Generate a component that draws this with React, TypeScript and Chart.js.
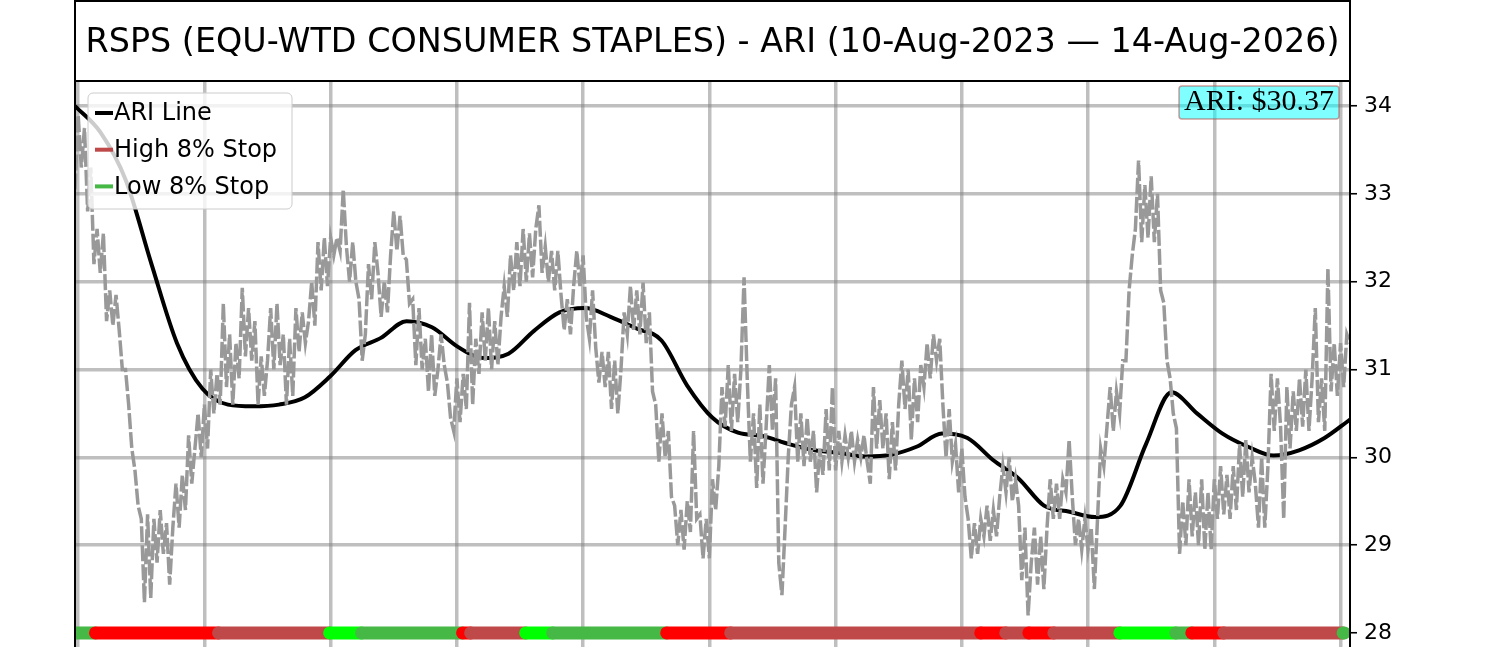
import React, { useEffect, useRef } from 'react';
import { Chart, registerables } from 'chart.js';

Chart.register(...registerables);

const TITLE = 'RSPS (EQU-WTD CONSUMER STAPLES) - ARI (10-Aug-2023 — 14-Aug-2026)';
const ARI_LABEL = 'ARI: $30.37';

// price (grey), one value every PRICE_STEP along the x axis
const PRICE_STEP = 0.25;
const priceValues = [
  33.05, 33.9, 33.3, 33.75, 32.8, 33.3, 32.2, 32.6,
  32.1, 32.55, 31.55, 31.9, 31.5, 31.85, 31.45, 31.0,
  31.0, 30.6, 30.1, 29.85, 29.45, 29.3, 28.35, 29.35,
  28.4, 29.3, 28.8, 29.4, 28.9, 29.25, 28.55, 29.2,
  29.7, 29.2, 29.8, 29.4, 30.25, 29.7, 30.1, 30.5,
  30.0, 30.6, 30.1, 31.0, 30.5, 30.95, 30.6, 31.75,
  30.8, 31.4, 30.6, 31.3, 30.9, 31.93, 31.15, 31.7,
  31.1, 31.55, 30.6, 31.15, 30.7, 31.1, 31.7, 31.0,
  31.75, 31.05, 31.4, 30.6, 31.35, 30.7, 31.7, 31.2,
  31.65, 31.3, 31.55, 32.0, 31.5, 32.45, 31.9, 32.5,
  31.95, 32.5, 32.3, 32.5, 32.35, 33.05, 32.4, 32.0,
  32.45, 32.0, 31.8, 31.1, 31.4, 32.2, 31.8, 32.45,
  32.1, 31.6, 32.0, 31.65, 32.3, 32.8, 32.35, 32.75,
  32.3, 32.25, 31.75, 31.8, 31.05, 31.7, 31.0, 31.35,
  30.75, 31.4, 30.7, 31.0, 31.4, 31.05, 30.85, 30.45,
  30.3, 30.9, 30.4, 30.95, 30.55, 31.76, 30.6, 31.35,
  30.95, 31.65, 31.1, 31.7, 31.0, 31.55, 31.05, 31.6,
  31.95, 31.6, 32.3, 31.9, 32.45, 31.95, 32.6, 32.0,
  32.55, 32.05, 32.6, 32.87, 32.1, 32.4, 32.0, 32.35,
  31.9, 32.35, 31.85, 31.45, 31.8, 31.4, 31.95, 32.35,
  31.95, 32.3, 31.6, 31.35, 31.9, 31.25, 30.85, 31.2,
  30.8, 31.2, 30.55, 31.1, 30.5, 31.0, 31.65, 31.4,
  31.95, 31.45, 31.9, 31.4, 31.99, 31.3, 31.65, 30.75,
  30.6, 29.95, 30.5, 30.0, 30.3, 29.55, 29.45, 29.0,
  29.4, 28.95, 29.5, 29.15, 30.3, 29.3, 29.35, 28.85,
  29.3, 28.85, 29.75, 29.4, 29.9, 30.8, 30.35, 31.05,
  30.3, 30.95, 30.4, 31.0, 32.05, 30.9, 29.95, 30.5,
  29.65, 30.6, 29.7, 30.35, 31.05, 30.3, 30.9, 28.8,
  28.43, 29.2, 30.0, 30.6, 30.8, 29.95, 30.5, 29.9,
  30.45, 29.95, 30.3, 29.6, 30.1, 29.8, 30.55, 29.85,
  30.8, 29.85, 30.3, 29.95, 30.25, 30.0, 30.3, 29.95,
  30.2, 30.0, 30.25, 29.95, 29.7, 30.8, 30.1, 30.65,
  30.1, 30.5, 29.75, 30.4, 29.85, 30.6, 31.1, 30.55,
  31.0, 30.2, 30.9, 30.4, 31.05, 30.8, 31.3, 30.9,
  31.4, 31.1, 31.35, 30.6, 30.0, 30.55, 29.95, 30.15,
  29.6, 30.1, 29.55, 29.3, 28.85, 29.25, 28.9, 29.3,
  29.1, 29.45, 29.05, 29.4, 29.1, 29.55, 29.9, 29.6,
  30.0, 29.5, 29.75, 29.45, 28.6, 29.2, 28.2, 28.8,
  29.2, 28.55, 29.1, 28.5, 29.2, 29.75, 29.3, 29.7,
  29.3, 29.75, 29.6, 30.2, 29.55, 29.0, 29.3, 28.95,
  29.3, 28.95, 29.2, 28.5, 29.3, 30.1, 29.9, 30.35,
  30.8, 30.3, 30.75, 30.5, 31.1, 31.1, 31.9, 32.3,
  32.6, 33.38, 32.45, 33.1, 32.5, 33.2, 32.45, 33.0,
  31.9, 31.76, 31.1, 30.9, 30.5, 30.33, 28.9, 29.5,
  29.0, 29.75, 29.1, 29.6, 29.0, 29.75, 28.95, 29.6,
  28.95, 29.75, 29.3, 29.9, 29.35, 29.8, 29.3, 29.9,
  29.4, 30.15, 29.55, 30.2, 29.6, 30.0, 29.7, 29.2,
  30.0, 29.2, 29.9, 30.95, 30.3, 30.9, 30.35, 29.3,
  30.8, 30.1, 30.75, 30.3, 30.9, 30.35, 31.0, 30.3,
  30.9, 31.7, 30.4, 30.9, 30.3, 32.15, 30.75, 31.3,
  30.7, 31.3, 30.8, 31.4, 31.3,
];

// ARI line, one value every ARI_STEP
const ARI_STEP = 2.02;
const ariValues = [
  34.0, 33.7, 33.15, 32.2, 31.3, 30.78, 30.6, 30.58, 30.6, 30.68,
  30.92, 31.22, 31.36, 31.55, 31.48, 31.26, 31.13, 31.18, 31.44, 31.65,
  31.7, 31.6, 31.47, 31.33, 30.82, 30.45, 30.28, 30.24, 30.15, 30.08,
  30.05, 30.01, 30.03, 30.12, 30.27, 30.22, 29.97, 29.76, 29.45, 29.38,
  29.32, 29.45, 30.15, 30.74, 30.5, 30.27, 30.12, 30.02, 30.08, 30.22,
  30.43,
];

// 8% stop bar along the bottom: where each run starts and what it is
const STOP_LEVEL = 28;
const stopRunStarts = [
  0, 1.62, 11.37, 20.17, 22.7, 30.7, 31.34, 35.7, 37.84, 46.87,
  51.94, 71.75, 73.73, 75.56, 77.54, 82.77, 87.2, 88.47, 91.0, 100.45,
];
const stopRunEnd = 100.55;
const stopRunKinds = [
  'low', 'HIGH', 'high', 'LOW', 'low', 'HIGH', 'high', 'LOW', 'low', 'HIGH',
  'high', 'HIGH', 'high', 'HIGH', 'high', 'LOW', 'low', 'HIGH', 'high', 'low',
];

const yTicks = [28, 29, 30, 31, 32, 33, 34];
const xGridLines = [0.25, 10.25, 20.25, 30.25, 40.25, 50.25, 60.25, 70.25, 80.25, 90.25, 100.25];

const stopColors: Record<string, string> = {
  HIGH: '#ff0000',
  high: '#bf4848',
  LOW: '#00ff00',
  low: '#45b845',
};

const legendItems = [
  { label: 'ARI Line', color: '#000000' },
  { label: 'High 8% Stop', color: stopColors.high },
  { label: 'Low 8% Stop', color: stopColors.low },
];

const gridColor = 'rgba(128,128,128,0.5)';

const framePlugin = {
  id: 'frame',
  afterDraw(chart: Chart) {
    const { ctx, chartArea: a } = chart;
    ctx.save();

    // title box + spines
    ctx.strokeStyle = '#000';
    ctx.lineWidth = 2;
    ctx.strokeRect(a.left, 1, a.right - a.left, a.top - 1);
    ctx.beginPath();
    ctx.moveTo(a.left, a.top);
    ctx.lineTo(a.left, a.bottom);
    ctx.moveTo(a.right, a.top);
    ctx.lineTo(a.right, a.bottom);
    ctx.stroke();

    ctx.fillStyle = '#000';
    ctx.font = '33.4px "DejaVu Sans"';
    ctx.textAlign = 'center';
    ctx.textBaseline = 'alphabetic';
    ctx.fillText(TITLE, (a.left + a.right) / 2, a.top - 29);

    // legend
    const lx = a.left + 13;
    const ly = a.top + 12;
    ctx.beginPath();
    ctx.roundRect(lx, ly, 204, 116, 5);
    ctx.fillStyle = 'rgba(255,255,255,0.8)';
    ctx.fill();
    ctx.strokeStyle = '#cccccc';
    ctx.lineWidth = 1;
    ctx.stroke();

    ctx.font = '24px "DejaVu Sans"';
    ctx.textAlign = 'left';
    ctx.textBaseline = 'middle';
    legendItems.forEach((item, i) => {
      const cy = ly + 20 + i * 36.7;
      ctx.strokeStyle = item.color;
      ctx.lineWidth = 4;
      ctx.beginPath();
      ctx.moveTo(lx + 7, cy);
      ctx.lineTo(lx + 25, cy);
      ctx.stroke();
      ctx.fillStyle = '#000';
      ctx.fillText(item.label, lx + 26, cy + 1);
    });

    // last ARI value box
    ctx.font = '30px "Liberation Serif"';
    const tw = ctx.measureText(ARI_LABEL).width;
    const bw = tw + 10;
    const bx = a.right - 11 - bw;
    const by = a.top + 5;
    ctx.beginPath();
    ctx.roundRect(bx, by, bw, 33, 3);
    ctx.fillStyle = 'rgba(0,255,255,0.5)';
    ctx.fill();
    ctx.strokeStyle = 'rgba(178,60,60,0.5)';
    ctx.lineWidth = 1.5;
    ctx.stroke();
    ctx.fillStyle = '#000';
    ctx.textAlign = 'center';
    ctx.textBaseline = 'alphabetic';
    ctx.fillText(ARI_LABEL, bx + bw / 2, by + 24);

    ctx.restore();
  },
};

const App: React.FC = () => {
  const canvasRef = useRef<HTMLCanvasElement>(null);

  useEffect(() => {
    if (!canvasRef.current) return;

    const stopDatasets = stopRunStarts.map((start, k) => {
      const end = k + 1 < stopRunStarts.length ? stopRunStarts[k + 1] : stopRunEnd;
      return {
        label: `stop-${k}`,
        data: [
          { x: start, y: STOP_LEVEL },
          { x: end, y: STOP_LEVEL },
        ],
        borderColor: stopColors[stopRunKinds[k]],
        borderWidth: 13,
        borderCapStyle: 'round' as const,
        pointRadius: 0,
        clip: 0,
        order: 100 - k,
      };
    });

    const chart = new Chart(canvasRef.current, {
      type: 'line',
      data: {
        datasets: [
          {
            label: 'Price',
            data: priceValues.map((v, i) => ({ x: i * PRICE_STEP, y: v })),
            borderColor: '#999999',
            borderWidth: 3.5,
            borderDash: [16, 3],
            pointRadius: 0,
            tension: 0,
            order: 0,
          },
          {
            label: 'ARI Line',
            data: ariValues.map((v, i) => ({ x: i * ARI_STEP, y: v })),
            borderColor: '#000000',
            borderWidth: 4,
            pointRadius: 0,
            cubicInterpolationMode: 'monotone',
            order: 1,
          },
          ...stopDatasets,
        ],
      },
      options: {
        animation: false,
        responsive: true,
        maintainAspectRatio: false,
        events: [],
        layout: { padding: { left: 75, top: 81, right: 90, bottom: 0 } },
        plugins: {
          legend: { display: false },
          tooltip: { enabled: false },
        },
        scales: {
          x: {
            type: 'linear',
            min: 0,
            max: 101,
            afterBuildTicks: (s: any) => {
              s.ticks = xGridLines.map((v) => ({ value: v }));
            },
            afterFit: (s: any) => {
              s.height = 0;
              s.paddingLeft = 0;
              s.paddingRight = 0;
            },
            ticks: { display: false },
            grid: { color: gridColor, lineWidth: 3.5, drawTicks: false },
            border: { display: false },
          },
          y: {
            type: 'linear',
            position: 'right',
            min: 27.84,
            max: 34.285,
            afterBuildTicks: (s: any) => {
              s.ticks = yTicks.map((v) => ({ value: v }));
            },
            afterFit: (s: any) => {
              s.width = 60;
              s.paddingTop = 0;
              s.paddingBottom = 0;
            },
            ticks: {
              color: '#000',
              padding: 7,
              font: { family: '"DejaVu Sans"', size: 22 },
            },
            grid: {
              color: gridColor,
              lineWidth: 3.5,
              tickColor: '#000',
              tickLength: 7,
              tickWidth: 1.6,
            },
            border: { display: false },
          },
        },
      } as any,
      plugins: [framePlugin],
    });

    return () => {
      chart.destroy();
    };
  }, []);

  return (
    <div style={{ position: 'absolute', left: 0, top: 0, width: 1500, height: 647, background: '#fff' }}>
      <canvas ref={canvasRef} />
    </div>
  );
};

export default App;
